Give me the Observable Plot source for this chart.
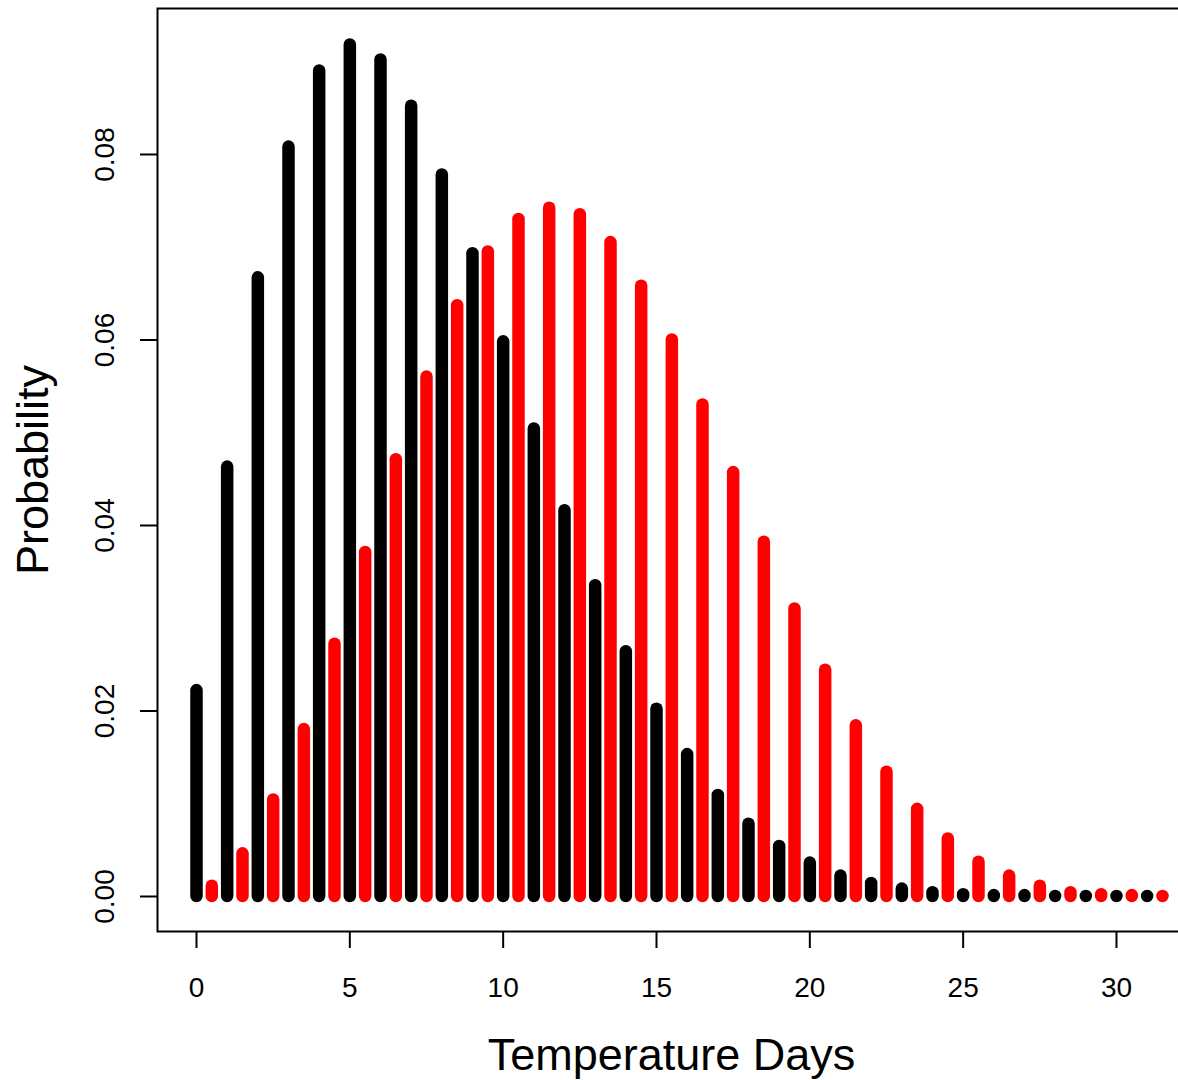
<!DOCTYPE html>
<html>
<head>
<meta charset="utf-8">
<script src="https://cdn.jsdelivr.net/npm/d3@7"></script>
<script src="https://cdn.jsdelivr.net/npm/@observablehq/plot@0.6"></script>
<style>
  html, body { margin: 0; padding: 0; background: #fff; overflow: hidden; }
  svg { overflow: hidden; }
</style>
</head>
<body>
<div id="chart"></div>
<script>
const blackDays = [0,1,2,3,4,5,6,7,8,9,10,11,12,13,14,15,16,17,18,19,20,21,22,23,24,25,26,27,28,29,30,31];
const blackProb = [0.0222,0.0463,0.0667,0.0808,0.0890,0.0918,0.0902,0.0852,0.0778,0.0693,0.0598,0.0504,0.0416,0.0335,0.0264,0.0202,0.0153,0.0109,0.0078,0.0054,0.0036,0.0022,0.0014,0.0008,0.0004,0.0002,0.0001,0.0001,0.0000,0.0000,0.0000,0.0000];
const redDays = [0.5,1.5,2.5,3.5,4.5,5.5,6.5,7.5,8.5,9.5,10.5,11.5,12.5,13.5,14.5,15.5,16.5,17.5,18.5,19.5,20.5,21.5,22.5,23.5,24.5,25.5,26.5,27.5,28.5,29.5,30.5,31.5];
const redProb = [0.0011,0.0046,0.0104,0.0180,0.0272,0.0371,0.0471,0.0560,0.0637,0.0695,0.0730,0.0742,0.0735,0.0705,0.0658,0.0600,0.0530,0.0457,0.0382,0.0310,0.0244,0.0184,0.0134,0.0094,0.0062,0.0037,0.0022,0.0011,0.0004,0.0002,0.0001,0.0000];
const xTicks = [0,5,10,15,20,25,30];
const yTicks = [0.00,0.02,0.04,0.06,0.08];
const xTitle = "Temperature Days";
const yTitle = "Probability";

const blackData = blackDays.map((d, i) => ({day: d, p: blackProb[i]}));
const redData = redDays.map((d, i) => ({day: d, p: redProb[i]}));

const chart = Plot.plot({
  width: 1178,
  height: 1080,
  marginLeft: 157,
  marginRight: -3,
  marginTop: 8,
  marginBottom: 149,
  style: {fontFamily: "'Liberation Sans', Arial, Helvetica, sans-serif", background: "#fff", color: "#000"},
  x: {domain: [-1.2717, 32.12], axis: null},
  y: {domain: [-0.003774, 0.09574], axis: null},
  marks: [
    Plot.ruleX(blackData, {x: "day", y1: 0, y2: "p", stroke: "#000", strokeWidth: 12.5, strokeLinecap: "round"}),
    Plot.ruleX(redData, {x: "day", y1: 0, y2: "p", stroke: "#ff0000", strokeWidth: 12.5, strokeLinecap: "round"}),
    Plot.frame({stroke: "#000", strokeWidth: 2}),
    Plot.axisX({ticks: xTicks, tickSize: 17, tickPadding: 29, fontSize: 28, label: null, strokeWidth: 2, tickFormat: d => String(d)}),
    Plot.axisY({ticks: yTicks, tickSize: 17, strokeWidth: 2, label: null, tickFormat: () => ""}),
    Plot.text(yTicks, {y: d => d, text: d => d.toFixed(2), frameAnchor: "left", textAnchor: "middle", lineAnchor: "middle", dx: -52, rotate: -90, fontSize: 28}),
    Plot.text([xTitle], {text: d => d, frameAnchor: "bottom", textAnchor: "middle", dx: 2, dy: 138, fontSize: 45}),
    Plot.text([yTitle], {text: d => d, frameAnchor: "left", textAnchor: "middle", lineAnchor: "middle", dx: -124, rotate: -90, fontSize: 45})
  ]
});
document.getElementById("chart").appendChild(chart);
</script>
</body>
</html>
